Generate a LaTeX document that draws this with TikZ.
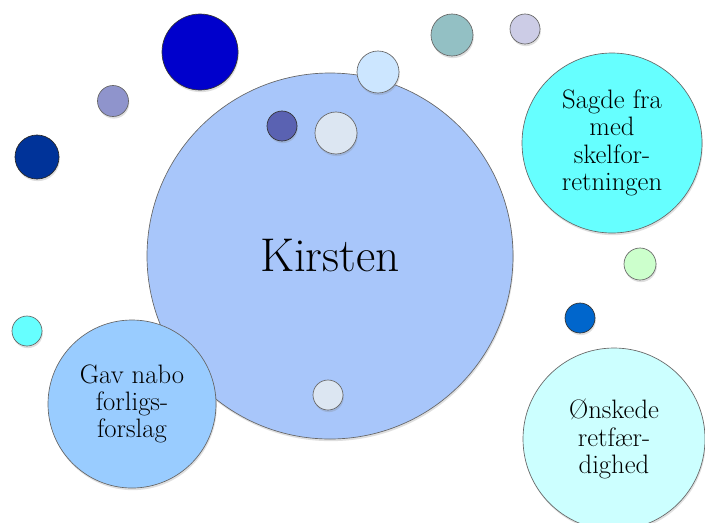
\documentclass[tikz,border=0pt]{standalone}
\usepackage{fontspec}
\usetikzlibrary{shadows}
\definecolor{kirstenfill}{RGB}{168,198,250}
\definecolor{sagdefill}{RGB}{102,255,255}
\definecolor{gavfill}{RGB}{153,204,255}
\definecolor{onskefill}{RGB}{204,255,255}
\definecolor{deepblue}{RGB}{0,0,204}
\definecolor{greyviolet}{RGB}{143,148,204}
\definecolor{navy}{RGB}{0,51,153}
\definecolor{skyball}{RGB}{204,230,255}
\definecolor{violet}{RGB}{90,98,178}
\definecolor{paleblue}{RGB}{220,230,242}
\definecolor{tealgrey}{RGB}{147,192,196}
\definecolor{lavender}{RGB}{204,204,230}
\definecolor{mint}{RGB}{204,255,204}
\definecolor{midblue}{RGB}{0,102,204}

\begin{document}
\begin{tikzpicture}[x=0.75pt,y=-0.75pt,
  every node/.style={inner sep=0pt,font=\fontsize{20}{20.5}\selectfont,align=center},
  bubble/.style={circle,draw=black!60,line width=0.5pt,minimum size=#1*1.5pt,
    drop shadow={opacity=0.25,shadow xshift=0.6pt,shadow yshift=-1.6pt}}]
\clip (0,0) rectangle (705,522);
\fill[white] (0,0) rectangle (705,522);
% main circle
\node[bubble=183,fill=kirstenfill] (kirsten) at (330,256) {\fontsize{35.5}{38}\selectfont Kirsten};
% small circles
\node[bubble=38,fill=deepblue,draw=black!80] (dotA) at (200,52) {};
\node[bubble=15.5,fill=greyviolet] (dotB) at (113,101) {};
\node[bubble=22,fill=navy,draw=black!85] (dotC) at (37,157) {};
\node[bubble=21,fill=skyball] (dotD) at (378,72) {};
\node[bubble=15,fill=violet,draw=black!80] (dotE) at (282,126) {};
\node[bubble=21,fill=paleblue] (dotF) at (336,133) {};
\node[bubble=21,fill=tealgrey] (dotG) at (452,35) {};
\node[bubble=15,fill=lavender] (dotH) at (525,29) {};
\node[bubble=16,fill=mint] (dotI) at (640,264) {};
\node[bubble=15,fill=midblue,draw=black!80] (dotJ) at (580,318) {};
\node[bubble=15,fill=sagdefill] (dotK) at (27,331) {};
\node[bubble=15,fill=paleblue] (dotL) at (328,395) {};
% text circles
\node[bubble=90,fill=sagdefill] (sagde) at (612,143) {Sagde fra\\med\\skelfor-\\retningen};
\node[bubble=84,fill=gavfill] (gav) at (132,404) {Gav nabo\\forligs-\\forslag};
\node[bubble=91,fill=onskefill] (onske) at (614,439) {Ønskede\\retfær-\\dighed};
\end{tikzpicture}
\end{document}
